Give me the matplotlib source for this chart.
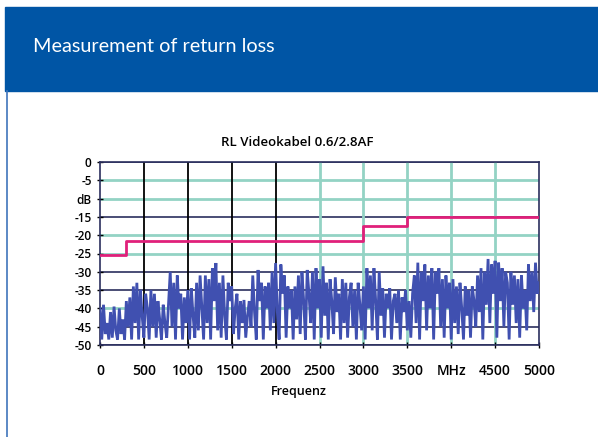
import numpy as np
import matplotlib
matplotlib.use("Agg")
from matplotlib import pyplot as plt
from matplotlib.patches import Rectangle
from matplotlib.lines import Line2D

header = "Measurement of return loss"
title = "RL Videokabel 0.6/2.8AF"
xlabel = "Frequenz"

# x ticks (MHz), "MHz" sits where 4000 would be
xticks = [0, 500, 1000, 1500, 2000, 2500, 3000, 3500, 4000, 4500, 5000]
xticklabels = ["0", "500", "1000", "1500", "2000", "2500", "3000", "3500", "MHz", "4500", "5000"]
# y ticks (dB), "dB" sits where -10 would be
yticks = [0, -5, -10, -15, -20, -25, -30, -35, -40, -45, -50]
yticklabels = ["0", "-5", "dB", "-15", "-20", "-25", "-30", "-35", "-40", "-45", "-50"]

# limit line (step)
limit_f = [0, 300, 300, 3000, 3000, 3500, 3500, 5000]
limit_db = [-25.5, -25.5, -21.7, -21.7, -17.6, -17.6, -15, -15]

meas_step = 20
meas_db = [
    -40, -48.5, -39, -47, -44, -48.5, -41, -48, -39.5, -46,
    -48.5, -40, -47, -43, -48.5, -38, -45, -37, -48.5, -34,
    -44, -33, -48.5, -35, -42, -48, -36, -40, -48.5, -35,
    -45, -36, -48, -38, -43, -48.5, -39, -44, -48, -39,
    -30, -45, -33, -48.5, -31, -40, -36, -48.5, -37, -44,
    -35, -48.5, -34.5, -42, -48, -33, -46, -31, -40, -48.5,
    -31, -44, -32, -48.5, -29, -38, -27.6, -46, -33, -48,
    -31, -42, -48.5, -33, -38, -34, -47, -40, -36, -48.5,
    -38, -44, -37.7, -48, -42, -38, -45, -31, -41, -48.5,
    -29.5, -38, -33, -48.5, -34, -40, -33, -46, -30, -44,
    -27.6, -41, -48.5, -28, -36, -31, -48, -34, -40, -35,
    -48.5, -34, -43, -31, -47, -30, -38, -48.5, -29.5, -36,
    -44, -30, -48.5, -29, -40, -32, -48, -28.5, -42, -33,
    -48.5, -32, -38, -47, -31.5, -41, -36, -48.5, -32, -44,
    -33, -48, -37, -33, -45, -35, -48.5, -33, -39, -46,
    -34, -48.5, -29, -40, -31, -46, -29, -38, -48.5, -30,
    -42, -34.5, -48, -36, -40, -34.5, -48.5, -38, -36, -44,
    -35, -48.5, -37, -41, -35, -46, -38, -48, -36, -31,
    -44, -27.5, -48.5, -30, -38, -28, -46, -31, -40, -29,
    -48.5, -30, -36, -29, -45, -32, -48, -31, -40, -33,
    -48.5, -32, -44, -34, -47, -33, -40, -48.5, -34, -42,
    -35, -48, -34, -38, -45, -31, -41, -29, -48.5, -30,
    -39, -26.5, -44, -28, -36, -27, -48, -27.5, -38, -29,
    -45, -30, -33, -48.5, -30, -39, -31, -44, -32, -48,
    -31, -40, -35, -46, -28, -38, -30, -41, -27.5, -36,
    -33,
]
meas_f = np.arange(len(meas_db)) * meas_step

dark_y = [0, -15, -30, -35, -45, -50]
dark_x = [500, 1000, 1500, 2000]

navy = "#2b2f5e"
teal = "#93d3c4"
pink = "#e0207a"
trace = "#4050b0"
band = "#0055a5"

fig = plt.figure(figsize=(5.98, 4.37), dpi=100)
W, H = 598, 437

# header band + left border
fig.patches.append(Rectangle((5 / W, 1 - 90.5 / H), 1 - 5 / W, 83.5 / H,
                             transform=fig.transFigure, color=band, zorder=0))
fig.lines.append(Line2D([6.5 / W, 6.5 / W], [0, 1 - 90.5 / H], transform=fig.transFigure,
                        color="#3f74bb", lw=1.2))
fig.text(33 / W, 1 - 46 / H, header, color="white", fontsize=14.3,
         family="Lato", va="center", ha="left")

ax = fig.add_axes([100 / W, 1 - 345 / H, 439 / W, 183 / H])
ax.set_xlim(0, 5000)
ax.set_ylim(-50, 0)

for y in yticks:
    if y in dark_y:
        ax.axhline(y, color=navy, lw=1.2, zorder=1)
    else:
        ax.axhline(y, color=teal, lw=2.0, zorder=1)
for x in xticks[1:-1]:
    if x in dark_x:
        ax.axvline(x, color="black", lw=1.3, zorder=1)
    else:
        ax.axvline(x, color=teal, lw=2.0, zorder=1)

ax.plot(meas_f, meas_db, color=trace, lw=2.0, zorder=3, solid_joinstyle="miter")
ax.plot(limit_f, limit_db, color=pink, lw=2.0, zorder=4)

for s in ax.spines.values():
    s.set_color(navy)
    s.set_linewidth(1.2)

ax.set_xticks(xticks)
ax.set_xticklabels(xticklabels)
ax.set_yticks(yticks)
ax.set_yticklabels(yticklabels)
ax.tick_params(axis="both", direction="inout", length=4, width=1, color="black")
ax.tick_params(axis="x", pad=12, labelsize=10)
ax.tick_params(axis="y", pad=4, labelsize=8.5)
for lab in ax.get_xticklabels() + ax.get_yticklabels():
    lab.set_family("Open Sans")
    lab.set_fontweight("semibold")

fig.text(297 / W, 1 - 143 / H, title, ha="center", va="center", fontsize=9.5,
         family="Open Sans", fontweight="semibold")
fig.text(299 / W, 1 - 392 / H, xlabel, ha="center", va="center", fontsize=9,
         family="Open Sans", fontweight="semibold")

fig.savefig("out.png", dpi=100, facecolor="white")
